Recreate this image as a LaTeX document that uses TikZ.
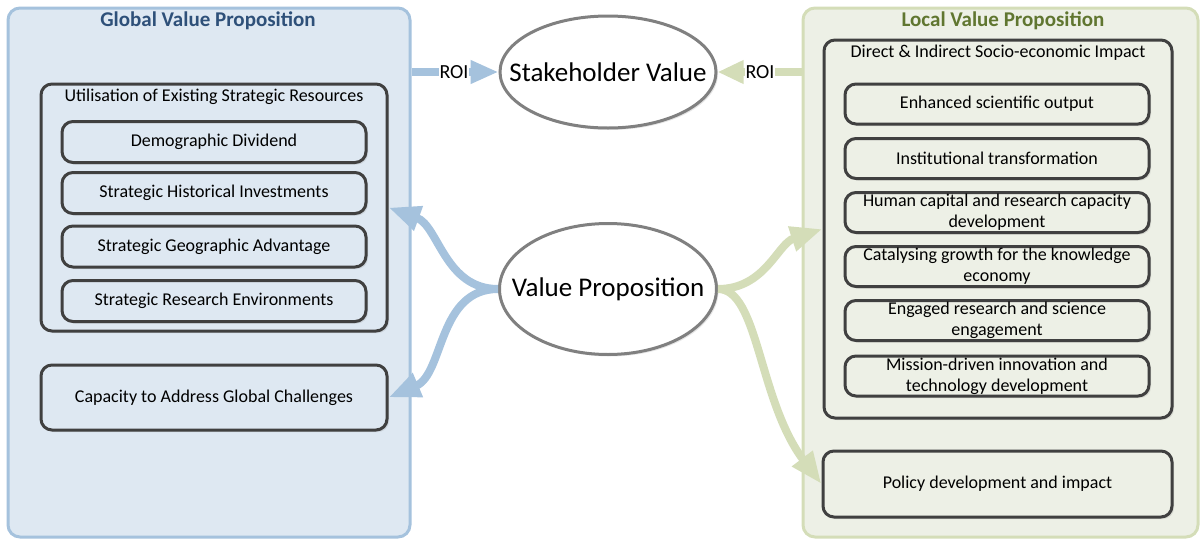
\documentclass[tikz,border=0pt]{standalone}
\usepackage{fontspec}
\setmainfont{Carlito}
\usetikzlibrary{arrows.meta,shapes.geometric,shadows}

\definecolor{gfill}{RGB}{222,232,242}
\definecolor{gline}{RGB}{165,194,221}
\definecolor{gtext}{RGB}{46,80,121}
\definecolor{lfill}{RGB}{237,240,230}
\definecolor{lline}{RGB}{212,221,184}
\definecolor{ltext}{RGB}{96,118,48}
\definecolor{boxline}{RGB}{64,64,64}
\definecolor{ovalline}{RGB}{128,128,128}

\def\glist{{142/gdem/Demographic Dividend}, {193/ghis/Strategic Historical Investments}, {246.5/ggeo/Strategic Geographic Advantage}, {301/gres/Strategic Research Environments}}
\def\llist{{104/lsci/Enhanced scientific output}, {158.5/linst/Institutional transformation}, {212.5/lhum/Human capital and research capacity\\development}, {266.5/lcat/Catalysing growth for the knowledge\\economy}, {320.5/leng/Engaged research and science\\engagement}, {376/lmis/Mission-driven innovation and\\technology development}}

\tikzstyle{panel}=[line width=3pt, rounded corners=12pt]
\tikzstyle{paneltitle}=[font=\bfseries\fontsize{21}{25}\selectfont]
\tikzstyle{grp}=[draw=boxline, line width=3pt, rounded corners=11pt, drop shadow={opacity=0.2, shadow xshift=2pt, shadow yshift=-2pt}]
\tikzstyle{cell}=[grp, align=center, inner sep=0pt]
\tikzstyle{oval}=[ellipse, draw=ovalline, fill=white, line width=3pt, drop shadow={opacity=0.2, shadow xshift=2pt, shadow yshift=-2pt}, font=\fontsize{27}{32}\selectfont, inner xsep=-40pt, inner ysep=0pt]
\tikzstyle{roi}=[inner sep=0pt, minimum width=30pt, font=\fontsize{20}{24}\selectfont]
\tikzstyle{flowb}=[draw=gline, line width=8pt, -{Triangle[length=32pt,width=24pt]}]
\tikzstyle{flowg}=[draw=lline, line width=8pt, -{Triangle[length=32pt,width=24pt]}]

\begin{document}
\begin{tikzpicture}[x=1pt, y=-1pt, font=\fontsize{18}{21}\selectfont]
  \useasboundingbox (0,0) rectangle (1203,539);

  % left side
  \node[panel, draw=gline, fill=gfill, minimum width=402pt, minimum height=529pt] (global) at (209,272.5) {};
  \node[paneltitle, text=gtext] (gtitle) at (208,21) {Global Value Proposition};
  \node[grp, fill=gfill, minimum width=346pt, minimum height=247pt] (util) at (214,207.5) {};
  \node (utitle) at (214,97) {Utilisation of Existing Strategic Resources};
  \foreach \y/\name/\txt in \glist {
    \node[cell, fill=gfill, minimum width=304pt, minimum height=41pt] (\name) at (214,\y) {\txt};
  }
  \node[cell, fill=gfill, minimum width=346pt, minimum height=65pt] (cap) at (214,397.5) {Capacity to Address Global Challenges};

  % right side
  \node[panel, draw=lline, fill=lfill, minimum width=395pt, minimum height=529pt] (local) at (1000.5,272.5) {};
  \node[paneltitle, text=ltext] (ltitle) at (1003,21) {Local Value Proposition};
  \node[grp, fill=lfill, minimum width=348pt, minimum height=378pt] (direct) at (998,229) {};
  \node (dtitle) at (998,53) {Direct \& Indirect Socio-economic Impact};
  \foreach \y/\name/\txt in \llist {
    \node[cell, fill=lfill, minimum width=304pt, minimum height=40pt] (\name) at (997,\y) {\txt};
  }
  \node[cell, fill=lfill, minimum width=349pt, minimum height=66pt] (policy) at (997.5,484) {Policy development and impact};

  % middle
  \node[oval, minimum width=216pt, minimum height=112pt] (sv) at (608,72) {Stakeholder Value};
  \node[oval, minimum width=217pt, minimum height=131pt] (vp) at (608,289) {Value Proposition};

  \node[roi] (roil) at (454,72) {ROI};
  \node[roi] (roir) at (760,72) {ROI};
  \draw[flowb, -] (sv -| global.east) -- (roil.west);
  \draw[flowb, -{Triangle[length=28pt,width=22pt]}] (roil.east) -- (sv.west);
  \draw[flowg, -] (sv -| local.west) -- (roir.east);
  \draw[flowg, -{Triangle[length=26pt,width=22pt]}] (roir.west) -- (sv.east);

  \draw[flowb] (vp.west) to[out=180, in=-20] (util.east);
  \draw[flowb] (vp.west) to[out=180, in=23] (cap.east);
  \draw[flowg] (vp.east) to[out=0, in=198] (direct.west);
  \draw[flowg] (vp.east) to[out=0, in=127, out looseness=0.47, in looseness=1.22] (policy.west);
\end{tikzpicture}
\end{document}
